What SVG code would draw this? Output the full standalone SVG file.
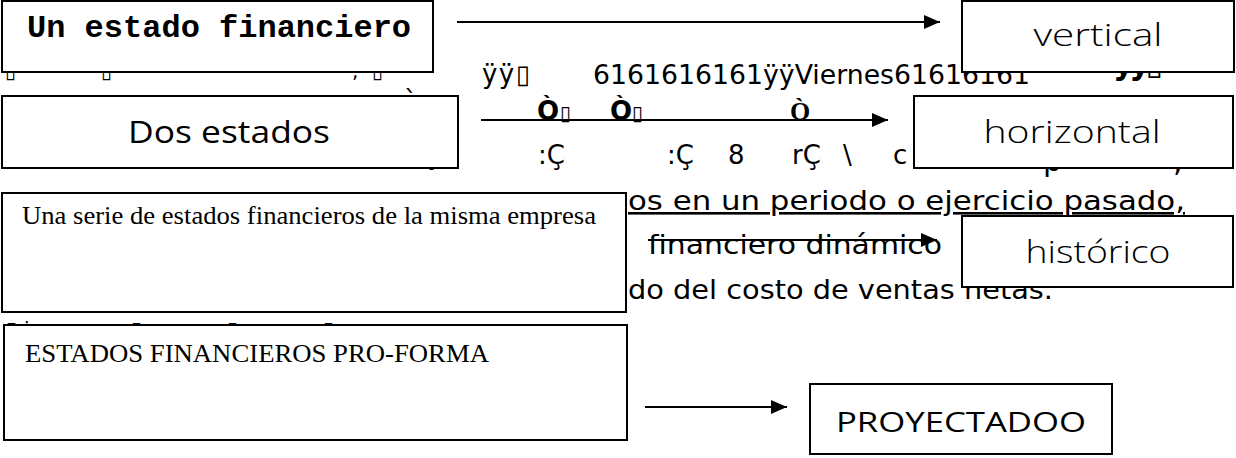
<svg xmlns="http://www.w3.org/2000/svg" width="1236" height="458" viewBox="0 0 1236 458">
<defs>
<marker id="ah" markerWidth="16" markerHeight="14" refX="16" refY="7" orient="auto" markerUnits="userSpaceOnUse"><path d="M0,0 L16,7 L0,14 z" fill="#000"/></marker>
<style>
.box{fill:#fff;stroke:#000;stroke-width:2}
.bg{font-family:"DejaVu Sans",sans-serif;font-size:26px;fill:#000}
.tofu{font-family:"DejaVu Sans",sans-serif;font-size:20px}
.b{font-weight:bold}
.conn line{stroke:#000;stroke-width:2;marker-end:url(#ah)}
.mono{font-family:"Liberation Mono",monospace;font-weight:bold;font-size:32px}
.serif{font-family:"Liberation Serif",serif;font-size:25px}
.hand{font-family:"Open Sans",sans-serif;font-weight:300;font-size:32px;text-anchor:middle}
.hand2{font-family:"Open Sans",sans-serif;font-size:31px;text-anchor:middle}
</style>
</defs>
<rect width="1236" height="458" fill="#fff"/>
<g id="background-text" class="bg">
  <text class="tofu" y="78"><tspan x="5">▯</tspan><tspan x="101">▯</tspan><tspan x="352">,</tspan><tspan x="372">▯</tspan></text>
  <text x="482" y="83" textLength="48">ÿÿ▯</text>
  <text x="593" y="84" textLength="437" lengthAdjust="spacingAndGlyphs">6161616161ÿÿViernes61616161</text>
  <text class="b" x="1113" y="74" textLength="50" style="font-size:32px">ÿÿ▯</text>
  <text x="404" y="110">`</text>
  <text class="b" y="120"><tspan x="537">Ò</tspan><tspan class="tofu" x="560">▯</tspan><tspan x="610">Ò</tspan><tspan class="tofu" x="632">▯</tspan></text>
  <text x="790" y="120" style="font-family:'Liberation Serif',serif;font-weight:bold">Ò</text>
  <text y="164"><tspan x="424">ç</tspan><tspan x="538">:Ç</tspan><tspan x="667">:Ç</tspan><tspan x="728">8</tspan><tspan x="792">rÇ</tspan><tspan x="843">\</tspan><tspan x="893">c</tspan></text>
  <text y="171" style="font-size:30px"><tspan x="1043">p</tspan><tspan x="1173">,</tspan></text>
  <text x="628" y="210" textLength="557" lengthAdjust="spacingAndGlyphs" text-decoration="underline">os en un periodo o ejercicio pasado,</text>
  <text x="648" y="254" textLength="294" lengthAdjust="spacingAndGlyphs">financiero dinámico</text>
  <text x="628" y="299" textLength="425" lengthAdjust="spacingAndGlyphs">do del costo de ventas netas.</text>
  <text class="tofu" y="336"><tspan x="6">▯</tspan><tspan x="24">i</tspan><tspan x="131">▯</tspan><tspan x="227">▯</tspan><tspan x="323">▯</tspan></text>
</g>
<g id="nodes">
  <g id="n-un-estado"><rect class="box" x="2" y="1" width="431" height="71"/><text class="mono" x="27" y="37">Un estado financiero</text></g>
  <g id="n-vertical"><rect class="box" x="962" y="1" width="272" height="71"/><text class="hand" x="1098" y="46" textLength="129" lengthAdjust="spacingAndGlyphs">vertical</text></g>
  <g id="n-dos-estados"><rect class="box" x="2" y="96" width="456" height="72"/><text class="hand2" x="229" y="143" textLength="202" lengthAdjust="spacingAndGlyphs">Dos estados</text></g>
  <g id="n-horizontal"><rect class="box" x="914" y="96" width="319" height="72"/><text class="hand" x="1072" y="143" textLength="177" lengthAdjust="spacingAndGlyphs">horizontal</text></g>
  <g id="n-serie"><rect class="box" x="2" y="193" width="624" height="119"/><text class="serif" x="22" y="224" textLength="574" lengthAdjust="spacingAndGlyphs">Una serie de estados financieros de la misma empresa</text></g>
  <g id="n-historico"><rect class="box" x="962" y="216" width="271" height="71"/><text class="hand" x="1098" y="263" textLength="145" lengthAdjust="spacingAndGlyphs">histórico</text></g>
  <g id="n-proforma"><rect class="box" x="4" y="325" width="623" height="115"/><text class="serif" x="25" y="362" textLength="464" lengthAdjust="spacingAndGlyphs">ESTADOS FINANCIEROS PRO-FORMA</text></g>
  <g id="n-proyectado"><rect class="box" x="810" y="384" width="302" height="70"/><text class="hand2" x="961" y="432" textLength="250" lengthAdjust="spacingAndGlyphs" style="font-size:28px">PROYECTADOO</text></g>
</g>
<g id="connectors" class="conn">
  <line x1="457" y1="22" x2="940" y2="22"/>
  <line x1="481" y1="120" x2="888" y2="120"/>
  <line x1="648" y1="240" x2="937" y2="240"/>
  <line x1="645" y1="407" x2="787" y2="407"/>
</g>
</svg>
